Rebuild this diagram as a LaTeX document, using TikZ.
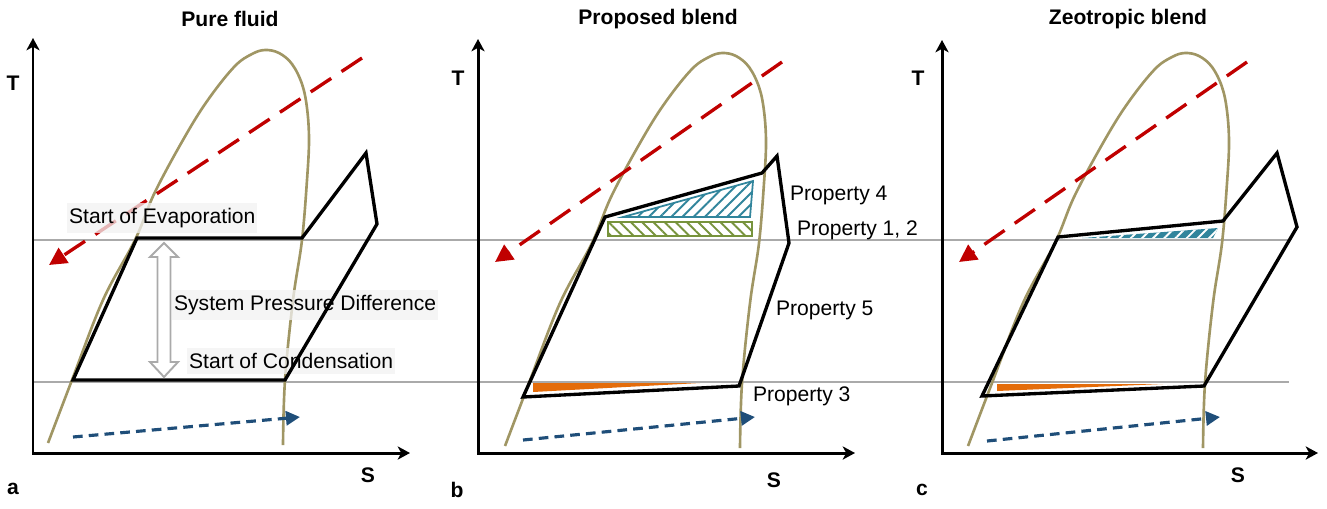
\documentclass[tikz,border=0pt]{standalone}
\usepackage{fontspec}
\setmainfont{Liberation Sans}
\usetikzlibrary{arrows.meta,patterns.meta}

\definecolor{domeolive}{RGB}{160,150,100}
\definecolor{hotred}{RGB}{192,0,0}
\definecolor{coldblue}{RGB}{31,78,121}
\definecolor{hatchteal}{RGB}{49,133,156}
\definecolor{hatchgreen}{RGB}{119,147,60}
\definecolor{glideorange}{RGB}{228,108,10}
\definecolor{refgray}{RGB}{170,170,170}
\definecolor{boxgray}{RGB}{242,242,242}

\newcommand{\domeline}{plot[smooth,tension=0.6] coordinates {(48,443) (72,380) (103,300) (135,240) (155,192) (187,133) (210,97) (235,66) (252,54) (265,50) (279,53) (292,64) (302,84) (307,108) (309,140) (307,180) (302,240) (293,300) (285,380) (283,445)}}

\begin{document}
\begin{tikzpicture}[x=0.02cm,y=-0.02cm,
  font=\fontsize{12}{14}\selectfont,
  axes/.style={line width=1.7pt,line join=miter,{Stealth[length=7pt,width=7.5pt,inset=2pt]}-{Stealth[length=7pt,width=7.5pt,inset=2pt]}},
  dome/.style={draw=domeolive,line width=1.5pt},
  refline/.style={draw=refgray,line width=1.1pt},
  process/.style={draw=black,line width=1.9pt,line join=miter},
  hotflow/.style={draw=hotred,line width=1.9pt,dash pattern=on 14pt off 7pt,-{Triangle[length=10pt,width=10pt]}},
  coldflow/.style={draw=coldblue,line width=1.8pt,dash pattern=on 5.5pt off 3.5pt,-{Triangle[length=8pt,width=8pt]}},
  tag/.style={font=\fontsize{12}{14}\selectfont\bfseries},
  note/.style={anchor=west,inner sep=1pt},
  notebox/.style={anchor=west,fill=boxgray,fill opacity=0.75,text opacity=1,inner xsep=1pt,inner ysep=3pt}]
\useasboundingbox (0,0) rectangle (1327,508);

% pressure levels
\draw[refline] (33,240) -- (1288,240);
\draw[refline] (33,382) -- (1289,382);

% saturation domes
\draw[dome] \domeline;
\begin{scope}[shift={(457,3)}]
\draw[dome] \domeline;
\end{scope}
\begin{scope}[shift={(920,3)}]
\draw[dome] \domeline;
\end{scope}

% axes
\draw[axes] (33,38) -- (33,453) -- (410,453);
\draw[axes] (478,39) -- (478,453) -- (855,453);
\draw[axes] (942,40) -- (942,453) -- (1318,453);

\node[tag] (titleA) at (230,19) {Pure fluid};
\node[tag] (titleB) at (658,19) {Proposed blend};
\node[tag] (titleC) at (1128,19) {Zeotropic blend};
\node[tag] (tA) at (13,83) {T};
\node[tag] (tB) at (458,78) {T};
\node[tag] (tC) at (918,78) {T};
\node[tag] (sA) at (368,475) {S};
\node[tag] (sB) at (774,480) {S};
\node[tag] (sC) at (1238,475) {S};
\node[tag] (labA) at (13,489) {a};
\node[tag] (labB) at (457,490) {b};
\node[tag] (labC) at (922,490) {c};

% heat source lines
\draw[hotflow] (362,58) -- (49,265);
\draw[hotflow] (782,62) -- (495,262);
\draw[hotflow] (1247,62) -- (959,262);

% pure fluid labels
\node[notebox] (evapA) at (67,218) {Start of Evaporation\hspace{4pt}};
\node[notebox] (dpA) at (172,305) {System Pressure Difference};
\node[notebox] (condA) at (187,361) {Start of Condensation\hspace{10pt}};

% glide areas
\fill[glideorange] (533,383) -- (700,383) -- (533,392) -- cycle;
\fill[glideorange] (997,384) -- (1163,384) -- (997,391) -- cycle;
\draw[hatchteal,line width=1pt,pattern={Lines[angle=45,distance=4.5pt,line width=1.1pt]},pattern color=hatchteal] (623,217) -- (753,181) -- (750,217) -- cycle;
\draw[hatchgreen,line width=1pt,pattern={Lines[angle=-45,distance=4.5pt,line width=1.1pt]},pattern color=hatchgreen] (608,222) rectangle (752,236);
\fill[hatchteal] (1082,238) -- (1218,228) -- (1213,238) -- cycle;
\fill[pattern={Lines[angle=45,distance=4.5pt,line width=1.1pt]},pattern color=white] (1082,238) -- (1218,228) -- (1213,238) -- cycle;

% cycles
\draw[process] (73,380) -- (137,238) -- (302,238) -- (366,153) -- (377,224) -- (285,380) -- cycle;
\draw[process] (523,397) -- (605,217) -- (762,173) -- (777,156) -- (789,243) -- (739,386) -- cycle;
\draw[process] (982,396) -- (1058,237) -- (1223,221) -- (1277,153) -- (1297,227) -- (1204,386) -- cycle;

% heat sink lines
\draw[coldflow] (73,437) -- (300,417);
\draw[coldflow] (523,440) -- (755,417);
\draw[coldflow] (987,441) -- (1220,417);

% pressure difference arrow
\draw[refgray,fill=white,line width=1.1pt,line join=miter] (164,243) -- (178,257) -- (170.5,257) -- (170.5,362) -- (178,362) -- (164,377) -- (150,362) -- (157.5,362) -- (157.5,257) -- (150,257) -- cycle;

% blend properties
\node[note] (prop4) at (788,195) {Property 4};
\node[note] (prop12) at (795,230) {Property 1, 2};
\node[note] (prop5) at (774,310) {Property 5};
\node[note] (prop3) at (751,396) {Property 3};
\end{tikzpicture}
\end{document}
